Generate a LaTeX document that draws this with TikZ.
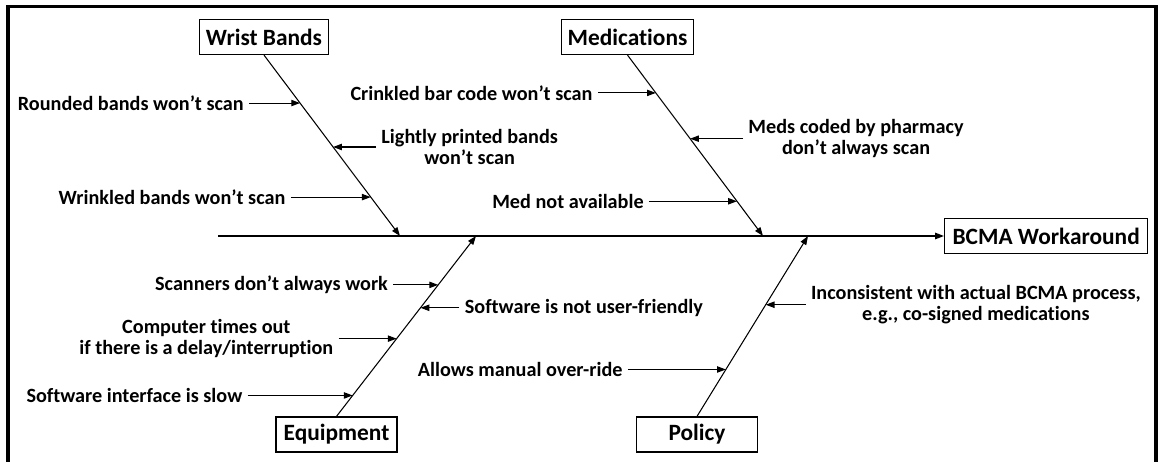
\documentclass[tikz,border=0pt]{standalone}
\usepackage{fontspec}
\setmainfont{Carlito}[Ligatures={TeX,NoCommon}]
\usetikzlibrary{arrows.meta,positioning}

\begin{document}
\begin{tikzpicture}[
  >={Triangle[length=5pt,width=3.6pt]},
  every node/.style={font=\fontsize{11.5}{12}\selectfont\bfseries},
  cat/.style  ={draw,line width=0.7pt,minimum width=2.42cm,minimum height=0.7cm,
                inner xsep=0.13cm,font=\fontsize{13.3}{14}\selectfont\bfseries},
  cause/.style={align=center,inner sep=0.1cm},
  bone/.style ={line width=0.6pt},
  spine/.style={line width=0.85pt}
]
\useasboundingbox (0,-4.52) rectangle (23.2,4.72);
\draw[line width=2pt] (0.16,-4.6) -- (0.16,4.59) -- (23.12,4.59) -- (23.12,-4.6);

% category boxes and the effect
\node[cat] (wb) at (5.28,3.98)   {Wrist Bands};
\node[cat] (md) at (12.55,3.98)  {Medications};
\node[cat] (eq) at (6.73,-3.97)  {Equipment};
\node[cat] (pl) at (13.94,-3.97) {Policy};
\node[cat,anchor=west,inner xsep=0.16cm] (bcma) at (18.88,0) {BCMA Workaround};

% spine
\coordinate (tail) at (4.36,0);
\coordinate (wt) at (8.0,0);
\coordinate (et) at (9.52,0);
\coordinate (mt) at (15.26,0);
\coordinate (pt) at (16.16,0);
\draw[spine,->] (tail) -- (bcma);

% bones
\draw[bone,->] (wb.south) -- coordinate[pos=.265] (w1) coordinate[pos=.508] (w2)
                             coordinate[pos=.785] (w3) (wt);
\draw[bone,->] (md.south) -- coordinate[pos=.209] (m1) coordinate[pos=.462] (m2)
                             coordinate[pos=.808] (m3) (mt);
\draw[bone,->] (eq.north) -- coordinate[pos=.729] (e1) coordinate[pos=.602] (e2)
                             coordinate[pos=.431] (e3) coordinate[pos=.116] (e4) (et);
\draw[bone,->] (pl.north) -- coordinate[pos=.619] (p1) coordinate[pos=.26] (p2) (pt);

% causes
\node[cause,left=1.02cm of w1]  (cw1) {Rounded bands won't scan};
\node[cause,right=0.86cm of w2] (cw2) {Lightly printed bands\\won't scan};
\node[cause,left=1.6cm of w3]   (cw3) {Wrinkled bands won't scan};

\node[cause,left=1.16cm of m1]  (cm1) {Crinkled bar code won't scan};
\node[cause,right=1.06cm of m2] (cm2) {Meds coded by pharmacy\\don't always scan};
\node[cause,left=1.76cm of m3]  (cm3) {Med not available};

\node[cause,left=0.9cm of e1]   (ce1) {Scanners don't always work};
\node[cause,right=0.78cm of e2] (ce2) {Software is not user-friendly};
\node[cause,left=1.16cm of e3]  (ce3) {Computer times out\\if there is a delay/interruption};
\node[cause,left=2.1cm of e4]   (ce4) {Software interface is slow};

\node[cause,right=0.8cm of p1]  (cp1) {Inconsistent with actual BCMA process,\\e.g., co-signed medications};
\node[cause,left=1.96cm of p2]  (cp2) {Allows manual over-ride};

\foreach \c/\p in {cw1/w1,cw2/w2,cw3/w3,cm1/m1,cm2/m2,cm3/m3,
                   ce1/e1,ce2/e2,ce3/e3,ce4/e4,cp1/p1,cp2/p2}
  \draw[bone,->] (\c) -- (\p);
\end{tikzpicture}
\end{document}
